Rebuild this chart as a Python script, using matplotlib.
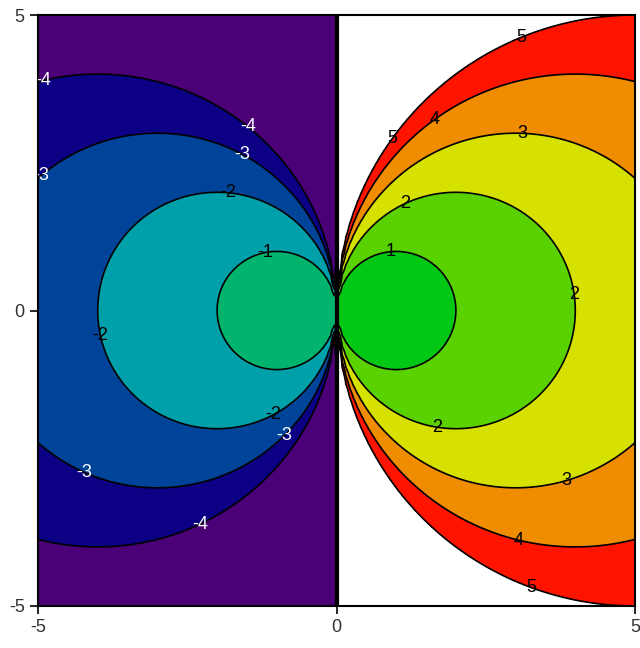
import numpy as np
import matplotlib
matplotlib.use("Agg")
import matplotlib.pyplot as plt

# data
x_range = [-5, 5]
y_range = [-5, 5]
fill_levels = [-1e6, -4, -3, -2, -1, 0, 1, 2, 3, 4, 5]
fill_colors = ["#4B0077", "#0C0085", "#00449A", "#00A0AA", "#00B46E",
               "#00C814", "#5AD200", "#D7E100", "#F08C00", "#FF1400"]
line_levels = [-4, -3, -2, -1, 0, 1, 2, 3, 4, 5]
tick_values = [-5, 0, 5]

N = 160
x = np.linspace(x_range[0], x_range[1], N)
y = np.linspace(y_range[0], y_range[1], N + 1)
X, Y = np.meshgrid(x, y)
Z = (X**2 + Y**2) / (2 * X)

plt.rcParams['font.family'] = ['Liberation Sans', 'DejaVu Sans']
plt.rcParams['axes.unicode_minus'] = False
fig = plt.figure(figsize=(6.4, 6.48), dpi=100)
ax = fig.add_axes([38/640, 1 - 606/648, 597/640, 591/648])

ax.contourf(X, Y, Z, levels=fill_levels, colors=fill_colors)
cs = ax.contour(X, Y, Z, levels=line_levels, colors="black",
                linewidths=1.2, linestyles="solid")
# thick line along the discontinuity
ax.contour(X, Y, np.sign(X), levels=[0], colors="black", linewidths=3)

label_pos = [(-4.92, 3.9), (-4.92, 2.24), (-1.48, 3.12), (-1.57, 2.65),
             (-1.82, 2.0), (-1.2, 0.99), (-3.96, -0.43), (-1.05, -1.78),
             (-0.86, -2.12), (-4.21, -2.7), (-2.29, -3.61),
             (3.06, 4.70), (1.62, 3.26), (3.12, 3.02), (0.88, 2.95),
             (1.15, 1.82), (0.9, 1.0), (3.96, 0.26), (1.68, -1.99),
             (3.84, -2.87), (3.06, -3.88), (3.26, -4.71)]
texts = ax.clabel(cs, manual=label_pos, inline=False,
                  fmt=lambda v: "%d" % v, fontsize=13)
for t in texts:
    t.set_rotation(0)
    try:
        v = float(t.get_text())
    except ValueError:
        continue
    t.set_color("white" if v <= -3 else "black")

ax.set_xlim(x_range)
ax.set_ylim(y_range)
ax.set_xticks(tick_values)
ax.set_yticks(tick_values)
ax.tick_params(direction="out", length=6, width=1.2, labelsize=13,
               labelcolor="#333333")
for s in ax.spines.values():
    s.set_linewidth(1.5)

fig.savefig("out.png", dpi=100)
